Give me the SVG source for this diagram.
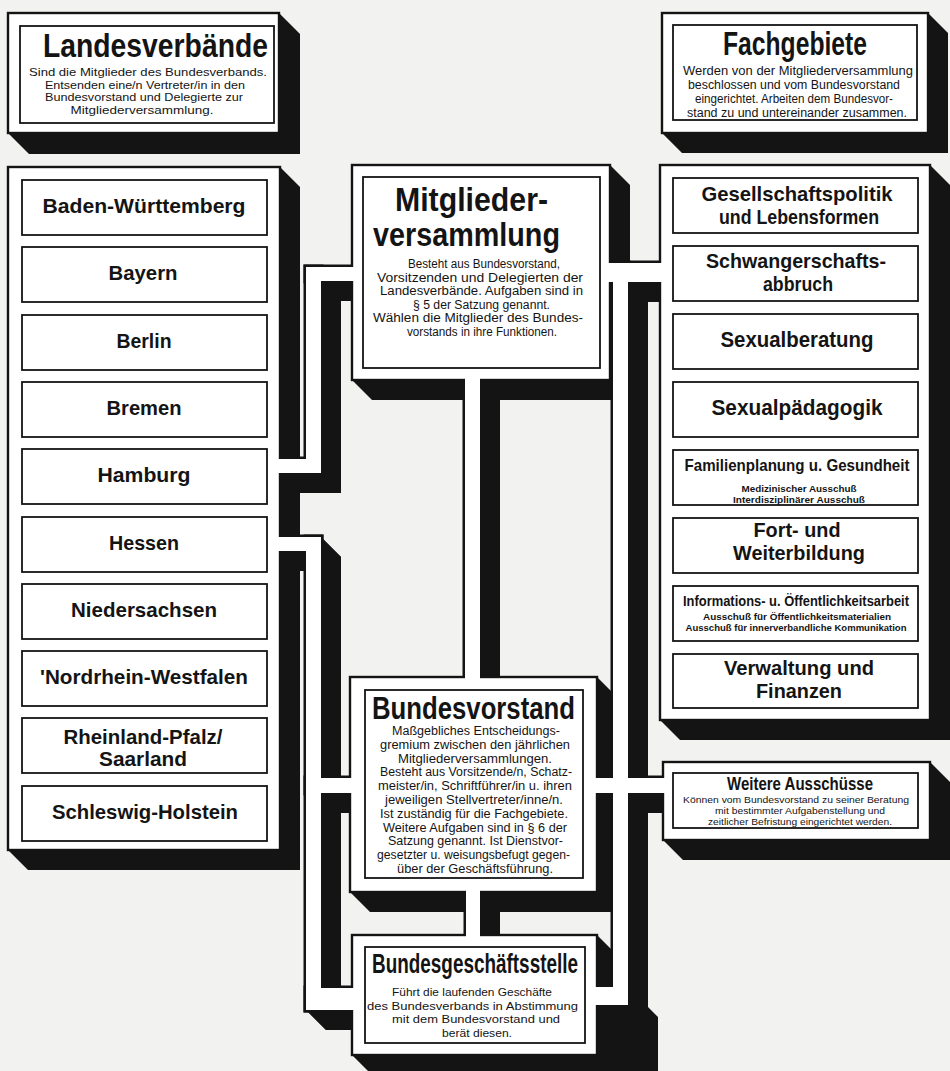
<svg xmlns="http://www.w3.org/2000/svg" width="950" height="1071" viewBox="0 0 950 1071">
<defs><style>
.bg{fill:#f2f2f0}
.sh{fill:#141414}
.face{fill:#fff;stroke:#141414;stroke-width:2.4}
.inner{fill:#fff;stroke:#141414;stroke-width:1.8}
.po{fill:none;stroke:#141414;stroke-width:5}
.pf{fill:#fff}
text{font-family:"Liberation Sans",Arial,sans-serif;fill:#141414;text-anchor:middle}
.b{font-weight:bold}
</style></defs>
<rect class="bg" x="0" y="0" width="950" height="1071"/>

<g id="connectors">
<polygon class="sh" points="306,267 352,267 372,287 372,301 326,301 306,281"/>
<polygon class="sh" points="306,267 321,267 341,287 341,493 326,493 306,473"/>
<polygon class="sh" points="280,459 321,459 341,479 341,493 300,493 280,473"/>
<polygon class="sh" points="280,537 321,537 341,557 341,571 300,571 280,551"/>
<polygon class="sh" points="306,537 321,537 341,557 341,1030 326,1030 306,1010"/>
<polygon class="sh" points="306,778 350,778 370,798 370,813 326,813 306,793"/>
<polygon class="sh" points="306,988 352,988 372,1008 372,1030 326,1030 306,1010"/>
<polygon class="sh" points="465,380 480,380 500,400 500,697 485,697 465,677"/>
<polygon class="sh" points="466,892 480,892 500,912 500,955 486,955 466,935"/>
<polygon class="sh" points="610,263 660,263 680,283 680,302 630,302 610,282"/>
<polygon class="sh" points="613,263 628,263 648,283 648,1025 633,1025 613,1005"/>
<polygon class="sh" points="597,778 663,778 683,798 683,813 617,813 597,793"/>
<polygon class="sh" points="597,987 628,987 648,1007 658,1017 658,1071 617,1071 617,1005 597,1005"/>
<rect class="po" x="306" y="267" width="50" height="14"/>
<rect class="po" x="306" y="267" width="15" height="206"/>
<rect class="po" x="276" y="459" width="45" height="14"/>
<rect class="po" x="276" y="537" width="45" height="14"/>
<rect class="po" x="306" y="537" width="15" height="473"/>
<rect class="po" x="306" y="778" width="48" height="15"/>
<rect class="po" x="306" y="988" width="50" height="22"/>
<rect class="po" x="465" y="376" width="15" height="305"/>
<rect class="po" x="466" y="888" width="14" height="51"/>
<rect class="po" x="606" y="263" width="58" height="19"/>
<rect class="po" x="613" y="263" width="15" height="742"/>
<rect class="po" x="593" y="778" width="74" height="15"/>
<rect class="po" x="593" y="987" width="35" height="18"/>
</g>

<g id="landesverbaende">
<polygon class="sh" points="8,13 279,13 300,34 300,154 29,154 8,133"/>
<rect class="face" x="8" y="13" width="271" height="120"/>
<rect class="inner" x="20" y="26" width="254" height="97"/>
<text class="b" x="155.5" y="57" font-size="34" textLength="225" lengthAdjust="spacingAndGlyphs">Landesverbände</text>
<text x="148" y="76" font-size="11.5" textLength="238" lengthAdjust="spacingAndGlyphs">Sind die Mitglieder des Bundesverbands.</text>
<text x="145" y="88.5" font-size="11.5" textLength="200" lengthAdjust="spacingAndGlyphs">Entsenden eine/n Vertreter/in in den</text>
<text x="144" y="101" font-size="11.5" textLength="198" lengthAdjust="spacingAndGlyphs">Bundesvorstand und Delegierte zur</text>
<text x="142" y="113.5" font-size="11.5" textLength="143" lengthAdjust="spacingAndGlyphs">Mitgliederversammlung.</text>
</g>

<g id="landesverbaende-liste">
<polygon class="sh" points="8,167 280,167 300,187 300,870 28,870 8,850"/>
<rect class="face" x="8" y="167" width="272" height="683"/>
<g id="lv-bw"><rect class="inner" x="22" y="180" width="245" height="55"/><text class="b" x="144" y="213" font-size="21" textLength="203" lengthAdjust="spacingAndGlyphs">Baden-Württemberg</text></g>
<g id="lv-by"><rect class="inner" x="22" y="247" width="245" height="55"/><text class="b" x="143" y="280" font-size="21" textLength="69" lengthAdjust="spacingAndGlyphs">Bayern</text></g>
<g id="lv-be"><rect class="inner" x="22" y="315" width="245" height="55"/><text class="b" x="144" y="348" font-size="21" textLength="55" lengthAdjust="spacingAndGlyphs">Berlin</text></g>
<g id="lv-hb"><rect class="inner" x="22" y="382" width="245" height="55"/><text class="b" x="144" y="415" font-size="21" textLength="75" lengthAdjust="spacingAndGlyphs">Bremen</text></g>
<g id="lv-hh"><rect class="inner" x="22" y="449" width="245" height="55"/><text class="b" x="144" y="482" font-size="21" textLength="93" lengthAdjust="spacingAndGlyphs">Hamburg</text></g>
<g id="lv-he"><rect class="inner" x="22" y="517" width="245" height="55"/><text class="b" x="144" y="550" font-size="21" textLength="70" lengthAdjust="spacingAndGlyphs">Hessen</text></g>
<g id="lv-ni"><rect class="inner" x="22" y="584" width="245" height="55"/><text class="b" x="144" y="617" font-size="21" textLength="146" lengthAdjust="spacingAndGlyphs">Niedersachsen</text></g>
<g id="lv-nw"><rect class="inner" x="22" y="651" width="245" height="55"/><text class="b" x="144" y="684" font-size="21" textLength="208" lengthAdjust="spacingAndGlyphs">'Nordrhein-Westfalen</text></g>
<g id="lv-rp"><rect class="inner" x="22" y="718" width="245" height="55"/><text class="b" x="143" y="744" font-size="19.5" textLength="159" lengthAdjust="spacingAndGlyphs">Rheinland-Pfalz/</text><text class="b" x="143" y="766" font-size="19.5" textLength="88" lengthAdjust="spacingAndGlyphs">Saarland</text></g>
<g id="lv-sh"><rect class="inner" x="22" y="786" width="245" height="55"/><text class="b" x="145" y="819" font-size="21" textLength="186" lengthAdjust="spacingAndGlyphs">Schleswig-Holstein</text></g>
</g>

<g id="fachgebiete">
<polygon class="sh" points="662,13 928,13 948,33 948,153 682,153 662,133"/>
<rect class="face" x="662" y="13" width="266" height="120"/>
<rect class="inner" x="673" y="25" width="244" height="95"/>
<text class="b" x="795" y="55" font-size="34" textLength="144" lengthAdjust="spacingAndGlyphs">Fachgebiete</text>
<text x="798" y="75" font-size="12" textLength="230" lengthAdjust="spacingAndGlyphs">Werden von der Mitgliederversammlung</text>
<text x="794" y="89" font-size="12" textLength="212" lengthAdjust="spacingAndGlyphs">beschlossen und vom Bundesvorstand</text>
<text x="794" y="103" font-size="12" textLength="198" lengthAdjust="spacingAndGlyphs">eingerichtet. Arbeiten dem Bundesvor-</text>
<text x="797" y="117" font-size="12" textLength="220" lengthAdjust="spacingAndGlyphs">stand zu und untereinander zusammen.</text>
</g>

<g id="fachgebiete-liste">
<polygon class="sh" points="660,165 930,165 950,185 950,740 680,740 660,720"/>
<rect class="face" x="660" y="165" width="270" height="555"/>
<g id="fg-gesellschaft"><rect class="inner" x="673" y="178" width="245" height="55"/><text class="b" x="797" y="201" font-size="21" textLength="191" lengthAdjust="spacingAndGlyphs">Gesellschaftspolitik</text><text class="b" x="799" y="224" font-size="21" textLength="160" lengthAdjust="spacingAndGlyphs">und Lebensformen</text></g>
<g id="fg-schwangerschaft"><rect class="inner" x="673" y="246" width="245" height="55"/><text class="b" x="796" y="268" font-size="21" textLength="180" lengthAdjust="spacingAndGlyphs">Schwangerschafts-</text><text class="b" x="798" y="291" font-size="21" textLength="70" lengthAdjust="spacingAndGlyphs">abbruch</text></g>
<g id="fg-sexualberatung"><rect class="inner" x="673" y="314" width="245" height="55"/><text class="b" x="797" y="347" font-size="22" textLength="153" lengthAdjust="spacingAndGlyphs">Sexualberatung</text></g>
<g id="fg-sexualpaedagogik"><rect class="inner" x="673" y="382" width="245" height="55"/><text class="b" x="797" y="415" font-size="22" textLength="171" lengthAdjust="spacingAndGlyphs">Sexualpädagogik</text></g>
<g id="fg-familienplanung"><rect class="inner" x="673" y="450" width="245" height="55"/><text class="b" x="797" y="471" font-size="16.5" textLength="225" lengthAdjust="spacingAndGlyphs">Familienplanung u. Gesundheit</text><text class="b" x="799" y="492" font-size="9.2" textLength="115" lengthAdjust="spacingAndGlyphs">Medizinischer Ausschuß</text><text class="b" x="799" y="502.5" font-size="9.2" textLength="132" lengthAdjust="spacingAndGlyphs">Interdisziplinärer Ausschuß</text></g>
<g id="fg-fortbildung"><rect class="inner" x="673" y="518" width="245" height="55"/><text class="b" x="797" y="537" font-size="21" textLength="87" lengthAdjust="spacingAndGlyphs">Fort- und</text><text class="b" x="799" y="560" font-size="21" textLength="132" lengthAdjust="spacingAndGlyphs">Weiterbildung</text></g>
<g id="fg-information"><rect class="inner" x="673" y="586" width="245" height="55"/><text class="b" x="796" y="606" font-size="15.5" textLength="226" lengthAdjust="spacingAndGlyphs">Informations- u. Öffentlichkeitsarbeit</text><text class="b" x="797" y="620" font-size="9.2" textLength="188" lengthAdjust="spacingAndGlyphs">Ausschuß für Öffentlichkeitsmaterialien</text><text class="b" x="796" y="631" font-size="9.2" textLength="221" lengthAdjust="spacingAndGlyphs">Ausschuß für innerverbandliche Kommunikation</text></g>
<g id="fg-verwaltung"><rect class="inner" x="673" y="654" width="245" height="54"/><text class="b" x="799" y="675" font-size="21" textLength="150" lengthAdjust="spacingAndGlyphs">Verwaltung und</text><text class="b" x="799" y="698" font-size="21" textLength="86" lengthAdjust="spacingAndGlyphs">Finanzen</text></g>
</g>

<g id="weitere-ausschuesse">
<polygon class="sh" points="663,762 930,762 950,782 950,860 683,860 663,840"/>
<rect class="face" x="663" y="762" width="267" height="78"/>
<rect class="inner" x="673" y="773" width="245" height="55"/>
<text class="b" x="800" y="790" font-size="18" textLength="146" lengthAdjust="spacingAndGlyphs">Weitere Ausschüsse</text>
<text x="796" y="803" font-size="9.3" textLength="226" lengthAdjust="spacingAndGlyphs">Können vom Bundesvorstand zu seiner Beratung</text>
<text x="800" y="814" font-size="9.3" textLength="170" lengthAdjust="spacingAndGlyphs">mit bestimmter Aufgabenstellung und</text>
<text x="800" y="825" font-size="9.3" textLength="184" lengthAdjust="spacingAndGlyphs">zeitlicher Befristung eingerichtet werden.</text>
</g>

<g id="mitgliederversammlung">
<polygon class="sh" points="352,165 610,165 630,185 630,400 372,400 352,380"/>
<rect class="face" x="352" y="165" width="258" height="215"/>
<rect class="inner" x="363" y="177" width="237" height="191"/>
<text class="b" x="471.5" y="211" font-size="33" textLength="153" lengthAdjust="spacingAndGlyphs">Mitglieder-</text>
<text class="b" x="466.5" y="246" font-size="33" textLength="187" lengthAdjust="spacingAndGlyphs">versammlung</text>
<text x="484" y="268" font-size="12.3" textLength="152" lengthAdjust="spacingAndGlyphs">Besteht aus Bundesvorstand,</text>
<text x="480" y="281.5" font-size="12.3" textLength="206" lengthAdjust="spacingAndGlyphs">Vorsitzenden und Delegierten der</text>
<text x="481.5" y="295" font-size="12.3" textLength="203" lengthAdjust="spacingAndGlyphs">Landesverbände. Aufgaben sind in</text>
<text x="481.5" y="308.5" font-size="12.3" textLength="137" lengthAdjust="spacingAndGlyphs">§ 5 der Satzung genannt.</text>
<text x="478" y="322" font-size="12.3" textLength="210" lengthAdjust="spacingAndGlyphs">Wählen die Mitglieder des Bundes-</text>
<text x="482" y="335.5" font-size="12.3" textLength="150" lengthAdjust="spacingAndGlyphs">vorstands in ihre Funktionen.</text>
</g>

<g id="bundesvorstand">
<polygon class="sh" points="350,677 597,677 617,697 617,912 370,912 350,892"/>
<rect class="face" x="350" y="677" width="247" height="215"/>
<rect class="inner" x="365" y="690" width="218" height="188"/>
<text class="b" x="473.5" y="719" font-size="31" textLength="203" lengthAdjust="spacingAndGlyphs">Bundesvorstand</text>
<text x="476" y="735" font-size="12" textLength="168" lengthAdjust="spacingAndGlyphs">Maßgebliches Entscheidungs-</text>
<text x="475" y="748.8" font-size="12" textLength="190" lengthAdjust="spacingAndGlyphs">gremium zwischen den jährlichen</text>
<text x="475" y="762.6" font-size="12" textLength="154" lengthAdjust="spacingAndGlyphs">Mitgliederversammlungen.</text>
<text x="476" y="776.4" font-size="12" textLength="192" lengthAdjust="spacingAndGlyphs">Besteht aus Vorsitzende/n, Schatz-</text>
<text x="475" y="790.2" font-size="12" textLength="194" lengthAdjust="spacingAndGlyphs">meister/in, Schriftführer/in u. ihren</text>
<text x="474" y="804" font-size="12" textLength="178" lengthAdjust="spacingAndGlyphs">jeweiligen Stellvertreter/inne/n.</text>
<text x="474" y="817.8" font-size="12" textLength="188" lengthAdjust="spacingAndGlyphs">Ist zuständig für die Fachgebiete.</text>
<text x="475" y="831.6" font-size="12" textLength="184" lengthAdjust="spacingAndGlyphs">Weitere Aufgaben sind in § 6 der</text>
<text x="475.5" y="845.4" font-size="12" textLength="175" lengthAdjust="spacingAndGlyphs">Satzung genannt. Ist Dienstvor-</text>
<text x="473.5" y="859.2" font-size="12" textLength="193" lengthAdjust="spacingAndGlyphs">gesetzter u. weisungsbefugt gegen-</text>
<text x="475" y="873" font-size="12" textLength="156" lengthAdjust="spacingAndGlyphs">über der Geschäftsführung.</text>
</g>

<g id="bundesgeschaeftsstelle">
<polygon class="sh" points="352,935 597,935 617,955 617,1075 372,1075 352,1055"/>
<rect class="face" x="352" y="935" width="245" height="120"/>
<rect class="inner" x="365" y="947" width="220" height="96"/>
<text class="b" x="475" y="973" font-size="27" textLength="206" lengthAdjust="spacingAndGlyphs">Bundesgeschäftsstelle</text>
<text x="472" y="996" font-size="11.8" textLength="160" lengthAdjust="spacingAndGlyphs">Führt die laufenden Geschäfte</text>
<text x="472.5" y="1009.5" font-size="11.8" textLength="211" lengthAdjust="spacingAndGlyphs">des Bundesverbands in Abstimmung</text>
<text x="476" y="1023" font-size="11.8" textLength="168" lengthAdjust="spacingAndGlyphs">mit dem Bundesvorstand und</text>
<text x="477" y="1036.5" font-size="11.8" textLength="70" lengthAdjust="spacingAndGlyphs">berät diesen.</text>
</g>

<g id="connector-faces">
<rect class="pf" x="306" y="267" width="50" height="14"/>
<rect class="pf" x="306" y="267" width="15" height="206"/>
<rect class="pf" x="276" y="459" width="45" height="14"/>
<rect class="pf" x="276" y="537" width="45" height="14"/>
<rect class="pf" x="306" y="537" width="15" height="473"/>
<rect class="pf" x="306" y="778" width="48" height="15"/>
<rect class="pf" x="306" y="988" width="50" height="22"/>
<rect class="pf" x="465" y="376" width="15" height="305"/>
<rect class="pf" x="466" y="888" width="14" height="51"/>
<rect class="pf" x="606" y="263" width="58" height="19"/>
<rect class="pf" x="613" y="263" width="15" height="742"/>
<rect class="pf" x="593" y="778" width="74" height="15"/>
<rect class="pf" x="593" y="987" width="35" height="18"/>
</g>
</svg>
